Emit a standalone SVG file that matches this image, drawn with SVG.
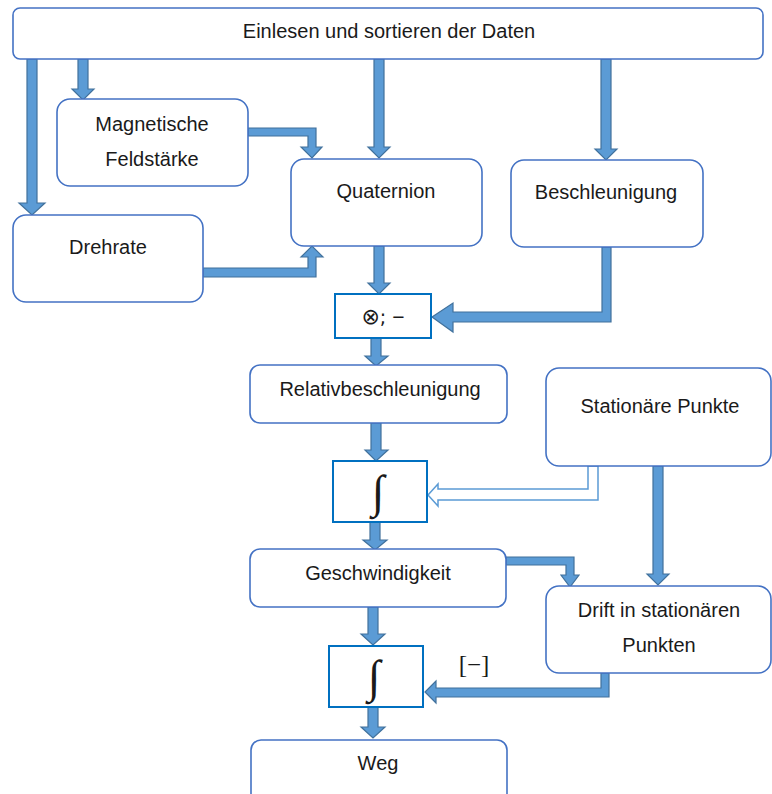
<svg xmlns="http://www.w3.org/2000/svg" width="772" height="794" viewBox="0 0 772 794">
  <style>
    .box { fill: #ffffff; stroke: #4472C4; stroke-width: 1.6; }
    .op { fill: #ffffff; stroke: #0070C0; stroke-width: 2; }
    .lbl { font-family: "Liberation Sans", Arial, sans-serif; font-size: 20px; fill: #1a1a1a; text-anchor: middle; }
    .sym { font-family: "DejaVu Sans", sans-serif; font-size: 19px; fill: #1a1a1a; text-anchor: middle; }
    .math { font-family: "Liberation Serif", "Times New Roman", serif; fill: #1a1a1a; text-anchor: middle; }
    .arr { fill: #5B9BD5; stroke: #41719C; stroke-width: 1.2; stroke-linejoin: miter; }
    .hollow { fill: #ffffff; stroke: #5B9BD5; stroke-width: 1.5; }
  </style>

  <!-- block arrows -->
  <g id="connectors">
    <polygon class="arr" points="27,59 37,59 37,203 45,203 32,215 19,203 27,203"/>
    <polygon class="arr" points="78,59 88,59 88,89 94,89 83,100 72,89 78,89"/>
    <polygon class="arr" points="374,59 384,59 384,147 390,147 379,158 368,147 374,147"/>
    <polygon class="arr" points="601,59 611,59 611,149 617,149 606,160 595,149 601,149"/>
    <polygon class="arr" points="248,128 316,128 316,147 322,147 312,158 301,147 308,147 308,136 248,136"/>
    <polygon class="arr" points="203,268 308,268 308,257 301,257 312,246 323,257 316,257 316,277 203,277"/>
    <polygon class="arr" points="374,246 384,246 384,283 390,283 379,294 368,283 374,283"/>
    <polygon class="arr" points="602,247 611,247 611,322 453,322 453,332 432,317 453,303 453,312 602,312"/>
    <polygon class="arr" points="371,338 381,338 381,356 388,356 376,366 365,356 371,356"/>
    <polygon class="arr" points="371,423 381,423 381,450 388,450 376,461 365,450 371,450"/>
    <polygon class="hollow" points="588,466 598,466 598,500 438,500 438,506 428,495 438,484 438,489 588,489"/>
    <polygon class="arr" points="370,522 380,522 380,540 387,540 375,550 363,540 370,540"/>
    <polygon class="arr" points="653,466 663,466 663,574 669,574 658,585 647,574 653,574"/>
    <polygon class="arr" points="506,557 574,557 574,575 579,575 570,587 561,575 566,575 566,565 506,565"/>
    <polygon class="arr" points="368,607 378,607 378,634 385,634 373,645 361,634 368,634"/>
    <polygon class="arr" points="601,673 609,673 609,697 436,697 436,703 425,692 436,681 436,688 601,688"/>
    <polygon class="arr" points="368,707 378,707 378,727 385,727 373,738 361,727 368,727"/>
  </g>

  <g id="daten">
    <rect class="box" x="13" y="8" width="750" height="51" rx="7"/>
    <text class="lbl" x="389" y="38">Einlesen und sortieren der Daten</text>
  </g>

  <g id="magnetische">
    <rect class="box" x="57" y="99" width="191" height="87" rx="13"/>
    <text class="lbl" x="152" y="131">Magnetische</text>
    <text class="lbl" x="152" y="166">Feldstärke</text>
  </g>

  <g id="drehrate">
    <rect class="box" x="13" y="215" width="190" height="87" rx="13"/>
    <text class="lbl" x="108" y="254">Drehrate</text>
  </g>

  <g id="quaternion">
    <rect class="box" x="291" y="159" width="191" height="87" rx="13"/>
    <text class="lbl" x="386" y="198">Quaternion</text>
  </g>

  <g id="beschleunigung">
    <rect class="box" x="511" y="160" width="192" height="87" rx="13"/>
    <text class="lbl" x="606" y="199">Beschleunigung</text>
  </g>

  <g id="produkt">
    <rect class="op" x="335" y="294" width="96" height="44"/>
    <text class="sym" x="383" y="324"><tspan font-size="22">⊗</tspan>; <tspan font-family="Liberation Sans, sans-serif" font-size="21">−</tspan></text>
  </g>

  <g id="relativbeschleunigung">
    <rect class="box" x="250" y="365" width="257" height="58" rx="10"/>
    <text class="lbl" x="380" y="396">Relativbeschleunigung</text>
  </g>

  <g id="stationaere-punkte">
    <rect class="box" x="546" y="368" width="225" height="98" rx="13"/>
    <text class="lbl" x="660" y="413">Stationäre Punkte</text>
  </g>

  <g id="integral-1">
    <rect class="op" x="333" y="461" width="94" height="61"/>
    <text class="math" x="378" y="507" font-size="46">∫</text>
  </g>

  <g id="geschwindigkeit">
    <rect class="box" x="250" y="549" width="256" height="58" rx="10"/>
    <text class="lbl" x="378" y="580">Geschwindigkeit</text>
  </g>

  <g id="drift">
    <rect class="box" x="546" y="586" width="225" height="87" rx="13"/>
    <text class="lbl" x="659" y="617">Drift in stationären</text>
    <text class="lbl" x="659" y="652">Punkten</text>
  </g>

  <g id="integral-2">
    <rect class="op" x="329" y="646" width="94" height="61"/>
    <text class="math" x="374" y="692" font-size="46">∫</text>
    <text class="math" x="474" y="673" font-size="25">[−]</text>
  </g>

  <g id="weg">
    <rect class="box" x="251" y="740" width="256" height="70" rx="10"/>
    <text class="lbl" x="378" y="770">Weg</text>
  </g>
</svg>
